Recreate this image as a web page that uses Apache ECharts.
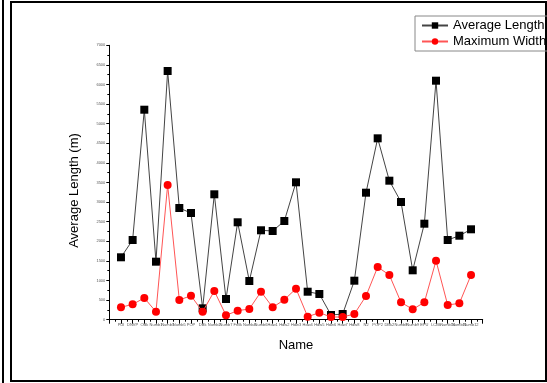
<!DOCTYPE html>
<html>
<head>
<meta charset="utf-8">
<script src="https://cdn.jsdelivr.net/npm/echarts@6/dist/echarts.min.js"></script>
<style>
  html, body { margin: 0; padding: 0; background: #fff; }
  #chart { width: 547px; height: 383px; }
</style>
</head>
<body>
<div id="chart"></div>
<script>
// tick labels along x (too small to read in the source, best guesses)
const names = ['PUI', 'DNVP', 'OBk', 'Numb1', 'Numb3', 'Numb5', 'POP', 'DBk', 'Numb2', 'Numb7',
  'FrBk', 'Numb4', 'Numb6', 'Hdw1', 'Hdw2', 'Hdw3', 'Hdw4', 'Hdw5', 'Hdw6', 'Hdw7',
  'Hdw8', 'NJ', 'POP2', 'DBk2', 'Numb8', 'Numb9', 'EPU', 'LCBk', 'Numb10', 'Numb11', 'Numb12'];

const avgLength = [1592, 2033, 5357, 1480, 6344, 2849, 2722, 290, 3199, 528,
  2485, 987, 2281, 2263, 2518, 3505, 714, 656, 120, 145,
  995, 3240, 4627, 3546, 3003, 1260, 2449, 6097, 2033, 2143, 2306];

const maxWidth = [316, 393, 553, 204, 3436, 503, 612, 204, 732, 112,
  230, 273, 714, 316, 510, 791, 77, 179, 69, 69,
  145, 605, 1344, 1140, 443, 265, 443, 1505, 375, 418, 1140];

const font = 'Arial, "Liberation Sans", sans-serif';

const chart = echarts.init(document.getElementById('chart'));

// pair each value with its position 1..n on the value x axis
function toPoints(arr) {
  return arr.map((v, i) => [i + 1, v]);
}

chart.setOption({
  animation: false,
  backgroundColor: '#fff',
  grid: { left: 109.3, right: 64.3, top: 45.3, bottom: 63.3 },
  legend: {
    left: 415,
    top: 16,
    orient: 'vertical',
    itemWidth: 26,
    itemHeight: 8,
    itemGap: 3,
    padding: [3, 6, 3, 6],
    borderColor: '#888',
    borderWidth: 1,
    textStyle: { fontFamily: font, fontSize: 13, color: '#000' },
    data: ['Average Length', 'Maximum Width']
  },
  xAxis: {
    type: 'value',
    min: 0,
    max: 32,
    interval: 1,
    name: 'Name',
    nameLocation: 'middle',
    nameGap: 19,
    nameTextStyle: { fontFamily: font, fontSize: 13, color: '#000' },
    splitLine: { show: false },
    axisLine: { lineStyle: { color: '#000', width: 1 } },
    axisTick: { inside: false, length: 4, lineStyle: { color: '#000' } },
    minorTick: { show: true, splitNumber: 2, length: 2, lineStyle: { color: '#000' } },
    axisLabel: {
      fontFamily: font,
      fontSize: 4,
      color: '#555',
      margin: 3,
      formatter: v => names[v - 1] || ''
    }
  },
  yAxis: {
    type: 'value',
    min: 0,
    max: 7000,
    interval: 500,
    name: 'Average Length (m)',
    nameLocation: 'middle',
    nameGap: 28,
    nameTextStyle: { fontFamily: font, fontSize: 13, color: '#000', padding: [0, 16, 0, 0] },
    splitLine: { show: false },
    axisLine: { show: true, lineStyle: { color: '#000', width: 1 } },
    axisTick: { show: true, length: 3, lineStyle: { color: '#000' } },
    minorTick: { show: true, splitNumber: 2, length: 2, lineStyle: { color: '#000' } },
    axisLabel: { fontFamily: font, fontSize: 4, color: '#555', margin: 4, formatter: v => String(v) }
  },
  series: [
    {
      name: 'Average Length',
      type: 'line',
      data: toPoints(avgLength),
      symbol: 'rect',
      symbolSize: 8,
      itemStyle: { color: '#000' },
      lineStyle: { color: '#444', width: 1 },
      z: 3
    },
    {
      name: 'Maximum Width',
      type: 'line',
      data: toPoints(maxWidth),
      symbol: 'circle',
      symbolSize: 8,
      itemStyle: { color: '#f00' },
      lineStyle: { color: '#f55', width: 1 },
      z: 4
    }
  ],
  graphic: [
    // frame around the figure
    { type: 'line', shape: { x1: 3, y1: 0, x2: 3, y2: 383 }, style: { stroke: '#000', lineWidth: 2 } },
    { type: 'rect', shape: { x: 11, y: 2, width: 535, height: 379 }, style: { fill: 'none', stroke: '#000', lineWidth: 2 } }
  ]
});
</script>
</body>
</html>
